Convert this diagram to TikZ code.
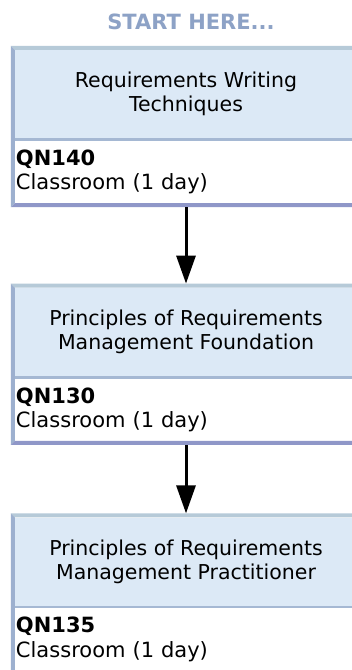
\documentclass[tikz,border=0pt]{standalone}
\usepackage{fontspec}
\setmainfont{DejaVu Sans}
\usetikzlibrary{positioning,arrows.meta}
\definecolor{headfill}{HTML}{DCE9F6}
\definecolor{topline}{HTML}{B6CAD8}
\definecolor{leftline}{HTML}{9DB0CF}
\definecolor{sepline}{HTML}{A5B8D3}
\definecolor{botline}{HTML}{8F97C8}
\definecolor{starttext}{HTML}{8DA2C6}
\begin{document}
\begin{tikzpicture}[x=1pt,y=-1pt,
      every node/.style={font=\fontsize{20.5}{24}\selectfont},
      head/.style={fill=headfill, minimum width=342pt, minimum height=88pt,
        inner sep=0pt, align=center},
      body/.style={fill=white, minimum width=342pt, minimum height=62pt,
        inner xsep=1pt, inner ysep=0pt, text width=340pt, align=left,
        font=\fontsize{21}{24.5}\selectfont},
      arrow/.style={-{Triangle[width=19pt,length=28pt]}, line width=3pt,
        shorten <=4pt, shorten >=4pt}]
 \useasboundingbox (0,0) rectangle (352,670);
 \clip (0,0) rectangle (352,670);

 \node[anchor=base, text=starttext, font=\bfseries\fontsize{21}{24}\selectfont] (start) at (191,29) {START HERE...};

 \node[head] (h1) at (186,94) {Requirements Writing\\Techniques};
 \node[body] (b1) [below=2.5pt of h1] {\textbf{QN140}\\Classroom (1 day)};
 \node[head] (h2) [below=84.5pt of b1] {Principles of Requirements\\Management Foundation};
 \node[body] (b2) [below=2.5pt of h2] {\textbf{QN130}\\Classroom (1 day)};
 \node[head] (h3) [below=76.5pt of b2] {Principles of Requirements\\Management Practitioner};
 \node[body] (b3) [below=2.5pt of h3] {\textbf{QN135}\\Classroom (1 day)};

 % box edges
 \foreach \n in {1,2,3} {
  \fill[topline] ([xshift=-4pt,yshift=4pt]h\n.north west) -- ([yshift=4pt]h\n.north east)
    -- (h\n.north east) -- (h\n.north west) -- cycle;
  \fill[sepline] (h\n.south west) rectangle ([yshift=-2.5pt]h\n.south east);
  \fill[botline] (b\n.south west) -- (b\n.south east) -- ([yshift=-4pt]b\n.south east)
    -- ([xshift=-4pt,yshift=-4pt]b\n.south west) -- cycle;
  \fill[leftline] ([xshift=-4pt,yshift=4pt]h\n.north west) -- (h\n.north west)
    -- (b\n.south west) -- ([xshift=-4pt,yshift=-4pt]b\n.south west) -- cycle;
 }

 \draw[arrow] (b1) -- (h2);
 \draw[arrow] (b2) -- (h3);
\end{tikzpicture}
\end{document}
